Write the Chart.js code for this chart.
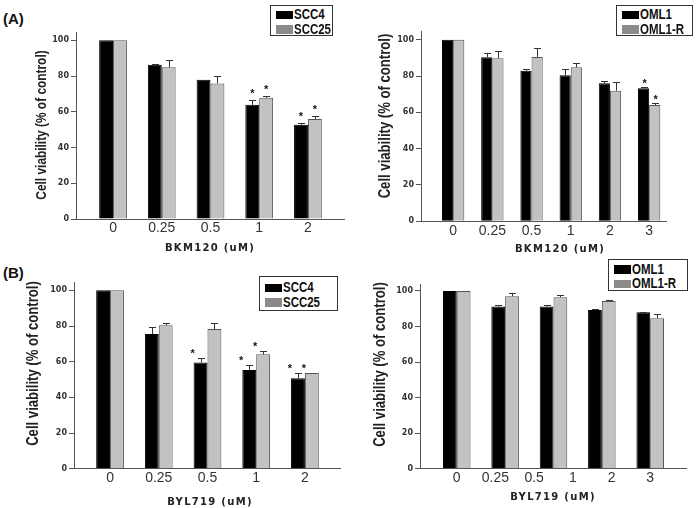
<!DOCTYPE html>
<html>
<head>
<meta charset="utf-8">
<script src="https://cdn.jsdelivr.net/npm/chart.js@4.4.1/dist/chart.umd.min.js"></script>
<style>
  body { margin: 0; background: #fff; }
  #fig { position: relative; width: 700px; height: 508px; overflow: hidden; }
  .panel { position: absolute; width: 350px; height: 254px; }
  .panel canvas { position: absolute; left: 0; top: 0; }
  .tag { position: absolute; left: 3px; font: bold 15px/15px Arial, "Liberation Sans", sans-serif; color: #111; }
  .legend { position: absolute; border: 1px solid #333; box-sizing: border-box; background: #fff; }
  .legend .sw { position: absolute; left: 5px; width: 17px; height: 8.5px; }
  .legend .lb { position: absolute; left: 23px; white-space: nowrap; color: #111;
                font: bold 14px/13px Arial, "Liberation Sans", sans-serif;
                transform: scaleX(0.82); transform-origin: 0 0; }
</style>
</head>
<body>
<div id="fig">
  <div class="tag" style="top:11px">(A)</div>
  <div class="tag" style="top:265px">(B)</div>
</div>
<script>
// ---- data: cell viability (% of control), mean + upper error ----
const yTicks = [0, 20, 40, 60, 80, 100];

// (A) BKM120, SCC4 / SCC25
const bkmSccDoses = ['0', '0.25', '0.5', '1', '2'];
const bkmScc4 = [100, 86.3, 77.9, 63.9, 52.7];
const bkmScc4Err = [0, 0.4, 0, 2.8, 0.8];
const bkmScc4Sig = [0, 0, 0, 1, 1];
const bkmScc25 = [100, 84.9, 75.9, 67.8, 56.0];
const bkmScc25Err = [0, 4.0, 4.3, 0.9, 1.5];
const bkmScc25Sig = [0, 0, 0, 1, 1];

// (A) BKM120, OML1 / OML1-R
const bkmOmlDoses = ['0', '0.25', '0.5', '1', '2', '3'];
const bkmOml1 = [100, 90.3, 82.9, 80.4, 76.0, 73.2];
const bkmOml1Err = [0, 2.2, 1.0, 3.3, 1.4, 0.6];
const bkmOml1Sig = [0, 0, 0, 0, 0, 1];
const bkmOml1R = [100, 89.8, 90.5, 84.8, 71.9, 64.0];
const bkmOml1RErr = [0, 4.1, 4.8, 2.3, 4.6, 1.0];
const bkmOml1RSig = [0, 0, 0, 0, 0, 1];

// (B) BYL719, SCC4 / SCC25
const bylSccDoses = ['0', '0.25', '0.5', '1', '2'];
const bylScc4 = [100, 75.5, 59.6, 55.3, 50.7];
const bylScc4Err = [0, 4.0, 2.6, 2.8, 3.1];
const bylScc4Sig = [0, 0, 1, 1, 1];
const bylScc25 = [100, 80.4, 78.3, 64.1, 53.6];
const bylScc25Err = [0, 1.1, 3.5, 1.7, 0];
const bylScc25Sig = [0, 0, 0, 1, 1];

// (B) BYL719, OML1 / OML1-R  (5 bar groups under 6 dose labels, as in the figure)
const bylOmlDoses = ['0', '0.25', '0.5', '1', '2', '3'];
const bylOml1 = [100, 91.2, 91.2, 89.3, 88.0];
const bylOml1Err = [0, 1.1, 1.1, 0.3, 0.3];
const bylOml1Sig = [0, 0, 0, 0, 0];
const bylOml1R = [100, 97.0, 96.5, 94.4, 84.6];
const bylOml1RErr = [0, 2.0, 1.2, 0.3, 2.3];
const bylOml1RSig = [0, 0, 0, 0, 0];

// ---- styles ----
const BLACK = '#000000';
const GREY = '#c2c2c2';
const GREY_EDGE = '#555555';
const GREY_KEY = '#8a8a8a';
const YTITLE = 'Cell viability (% of control)';

// error bars + significance stars + axis titles
const panelDecor = {
  id: 'panelDecor',
  afterDatasetsDraw(chart, args, o) {
    const ctx = chart.ctx;
    const y = chart.scales.y;
    ctx.save();
    chart.data.datasets.forEach((ds, di) => {
      chart.getDatasetMeta(di).data.forEach((bar, i) => {
        const top = y.getPixelForValue(ds.data[i].y + ds.errors[i]);
        if (ds.errors[i] > 0) {
          ctx.strokeStyle = '#333';
          ctx.lineWidth = 1;
          ctx.beginPath();
          ctx.moveTo(Math.round(bar.x) + 0.5, bar.y);
          ctx.lineTo(Math.round(bar.x) + 0.5, Math.round(top) + 0.5);
          ctx.moveTo(Math.round(bar.x) - 3, Math.round(top) + 0.5);
          ctx.lineTo(Math.round(bar.x) + 4, Math.round(top) + 0.5);
          ctx.stroke();
        }
        if (ds.sig[i]) {
          ctx.fillStyle = '#111';
          ctx.font = 'bold 11px Arial, "Liberation Sans", sans-serif';
          ctx.textAlign = 'center';
          ctx.textBaseline = 'alphabetic';
          ctx.fillText('*', bar.x + o.starDx, Math.min(top, bar.y) - o.starGap + 6);
        }
      });
    });
    ctx.restore();
  },
  afterDraw(chart, args, o) {
    const ctx = chart.ctx;
    // y title: Arial bold squeezed to look like the narrow face of the original
    ctx.save();
    ctx.fillStyle = '#222';
    ctx.textAlign = 'center';
    ctx.textBaseline = 'middle';
    ctx.translate(o.yTitleX, o.yTitleY);
    ctx.rotate(-Math.PI / 2);
    ctx.scale(0.82, 1);
    ctx.font = 'bold ' + o.yTitleSize + 'px Arial, "Liberation Sans", sans-serif';
    ctx.fillText(YTITLE, 0, 0);
    ctx.restore();
    ctx.save();
    ctx.fillStyle = '#222';
    ctx.textAlign = 'center';
    ctx.textBaseline = 'middle';
    ctx.font = 'bold 10px "DejaVu Sans", sans-serif';
    ctx.letterSpacing = '1.3px';
    ctx.fillText(o.xTitle, o.xTitleX, o.xTitleY);
    ctx.restore();
  }
};

const panels = [
  { left: 0, top: 0, doses: bkmSccDoses, xTitle: 'BKM120 (uM)',
    series: [
      { name: 'SCC4', values: bkmScc4, err: bkmScc4Err, sig: bkmScc4Sig, fill: BLACK, edge: BLACK, key: BLACK },
      { name: 'SCC25', values: bkmScc25, err: bkmScc25Err, sig: bkmScc25Sig, fill: GREY, edge: GREY_EDGE, key: GREY_KEY }
    ],
    area: { left: 76, top: 32.3, right: 344, bottom: 219 }, xMin: -0.76, xMax: 4.74, yMax: 104.5,
    yTitle: { x: 41.7, y: 125, size: 14.5 }, xTitlePos: { x: 210, y: 248 },
    star: { dx: 0, gap: 9 }, legend: { left: 270, top: 5, w: 63, h: 31 } },
  { left: 350, top: 0, doses: bkmOmlDoses, xTitle: 'BKM120 (uM)',
    series: [
      { name: 'OML1', values: bkmOml1, err: bkmOml1Err, sig: bkmOml1Sig, fill: BLACK, edge: BLACK, key: BLACK },
      { name: 'OML1-R', values: bkmOml1R, err: bkmOml1RErr, sig: bkmOml1RSig, fill: GREY, edge: GREY_EDGE, key: GREY_KEY }
    ],
    area: { left: 71, top: 31.7, right: 316, bottom: 221.3 }, xMin: -0.82, xMax: 5.43, yMax: 104.4,
    yTitle: { x: 36, y: 116, size: 16 }, xTitlePos: { x: 210, y: 249 },
    star: { dx: 1, gap: 6 }, legend: { left: 266, top: 5, w: 77, h: 31 } },
  { left: 0, top: 254, doses: bylSccDoses, xTitle: 'BYL719 (uM)',
    series: [
      { name: 'SCC4', values: bylScc4, err: bylScc4Err, sig: bylScc4Sig, fill: BLACK, edge: BLACK, key: BLACK },
      { name: 'SCC25', values: bylScc25, err: bylScc25Err, sig: bylScc25Sig, fill: GREY, edge: GREY_EDGE, key: GREY_KEY }
    ],
    area: { left: 74, top: 28.3, right: 340, bottom: 214.7 }, xMin: -0.74, xMax: 4.72, yMax: 104.5,
    yTitle: { x: 33.5, y: 109.5, size: 16 }, xTitlePos: { x: 210, y: 248 },
    star: { dx: -8, gap: 7 }, legend: { left: 259, top: 22, w: 79, h: 35 } },
  { left: 350, top: 254, doses: bylOmlDoses, xTitle: 'BYL719 (uM)',
    series: [
      { name: 'OML1', values: bylOml1, err: bylOml1Err, sig: bylOml1Sig, fill: BLACK, edge: BLACK, key: BLACK },
      { name: 'OML1-R', values: bylOml1R, err: bylOml1RErr, sig: bylOml1RSig, fill: GREY, edge: GREY_EDGE, key: GREY_KEY }
    ],
    area: { left: 70, top: 30, right: 336, bottom: 214.7 }, xMin: -0.76, xMax: 4.74, yMax: 103.9,
    yTitle: { x: 30.7, y: 110.5, size: 16 }, xTitlePos: { x: 203, y: 243 },
    star: { dx: 0, gap: 6 }, legend: { left: 258, top: 5, w: 80, h: 32 } }
];

const fig = document.getElementById('fig');

function buildLegend(wrap, p) {
  const box = document.createElement('div');
  box.className = 'legend';
  Object.assign(box.style, { left: p.legend.left + 'px', top: p.legend.top + 'px',
    width: p.legend.w + 'px', height: p.legend.h + 'px' });
  const pad = (p.legend.h - 31) / 2;
  p.series.forEach((s, k) => {
    const sw = document.createElement('span');
    sw.className = 'sw';
    sw.style.top = (4.5 + pad + k * 14.5) + 'px';
    sw.style.background = s.key;
    const lb = document.createElement('span');
    lb.className = 'lb';
    lb.style.top = (2 + pad + k * 14.5) + 'px';
    lb.textContent = s.name;
    box.appendChild(sw);
    box.appendChild(lb);
  });
  wrap.appendChild(box);
}

function buildPanel(p) {
  const wrap = document.createElement('div');
  wrap.className = 'panel';
  wrap.style.left = p.left + 'px';
  wrap.style.top = p.top + 'px';
  const cv = document.createElement('canvas');
  cv.width = 350;
  cv.height = 254;
  wrap.appendChild(cv);
  fig.appendChild(wrap);
  buildLegend(wrap, p);

  const groups = p.series[0].values.length;
  // dose labels are spread evenly over the bar groups (differs only when counts mismatch)
  const step = (groups - 1) / (p.doses.length - 1);
  const a = p.area;

  new Chart(cv, {
    type: 'bar',
    data: {
      datasets: p.series.map(s => ({
        label: s.name,
        data: s.values.map((v, i) => ({ x: i, y: v })),
        errors: s.err,
        sig: s.sig,
        backgroundColor: s.fill,
        borderColor: s.edge,
        borderWidth: 1,
        // bar pair fills ~57% of a group; ruler uses the tick spacing when it is narrower
        categoryPercentage: 0.57 / Math.min(step, 1),
        barPercentage: 1
      }))
    },
    options: {
      responsive: false,
      animation: false,
      devicePixelRatio: 1,
      layout: { padding: { left: 0, top: a.top, right: 350 - a.right, bottom: 0 } },
      plugins: {
        legend: { display: false },
        tooltip: { enabled: false },
        panelDecor: {
          starDx: p.star.dx, starGap: p.star.gap,
          yTitleX: p.yTitle.x, yTitleY: p.yTitle.y, yTitleSize: p.yTitle.size,
          xTitle: p.xTitle, xTitleX: p.xTitlePos.x, xTitleY: p.xTitlePos.y
        }
      },
      scales: {
        x: {
          type: 'linear',
          offset: false,
          min: p.xMin,
          max: p.xMax,
          grid: { display: false, drawTicks: false },
          border: { display: true, color: '#555', width: 1 },
          afterBuildTicks: s => { s.ticks = p.doses.map((d, i) => ({ value: i * step })); },
          afterFit: s => { s.height = 254 - a.bottom; },
          ticks: {
            autoSkip: false,
            maxRotation: 0,
            padding: 1,
            color: '#333',
            font: { family: 'Arial, "Liberation Sans", sans-serif', size: 14 },
            callback: (v, i) => p.doses[i]
          }
        },
        y: {
          min: 0,
          max: p.yMax,
          afterBuildTicks: s => { s.ticks = yTicks.map(v => ({ value: v })); },
          afterFit: s => { s.width = a.left; },
          grid: { drawOnChartArea: false, drawTicks: true, tickLength: 5, color: '#555' },
          border: { display: true, color: '#555', width: 1 },
          ticks: {
            padding: 2,
            color: '#333',
            font: { family: '"DejaVu Sans", sans-serif', size: 8, weight: 'bold' }
          }
        }
      }
    },
    plugins: [panelDecor]
  });
}

panels.forEach(buildPanel);
</script>
</body>
</html>
